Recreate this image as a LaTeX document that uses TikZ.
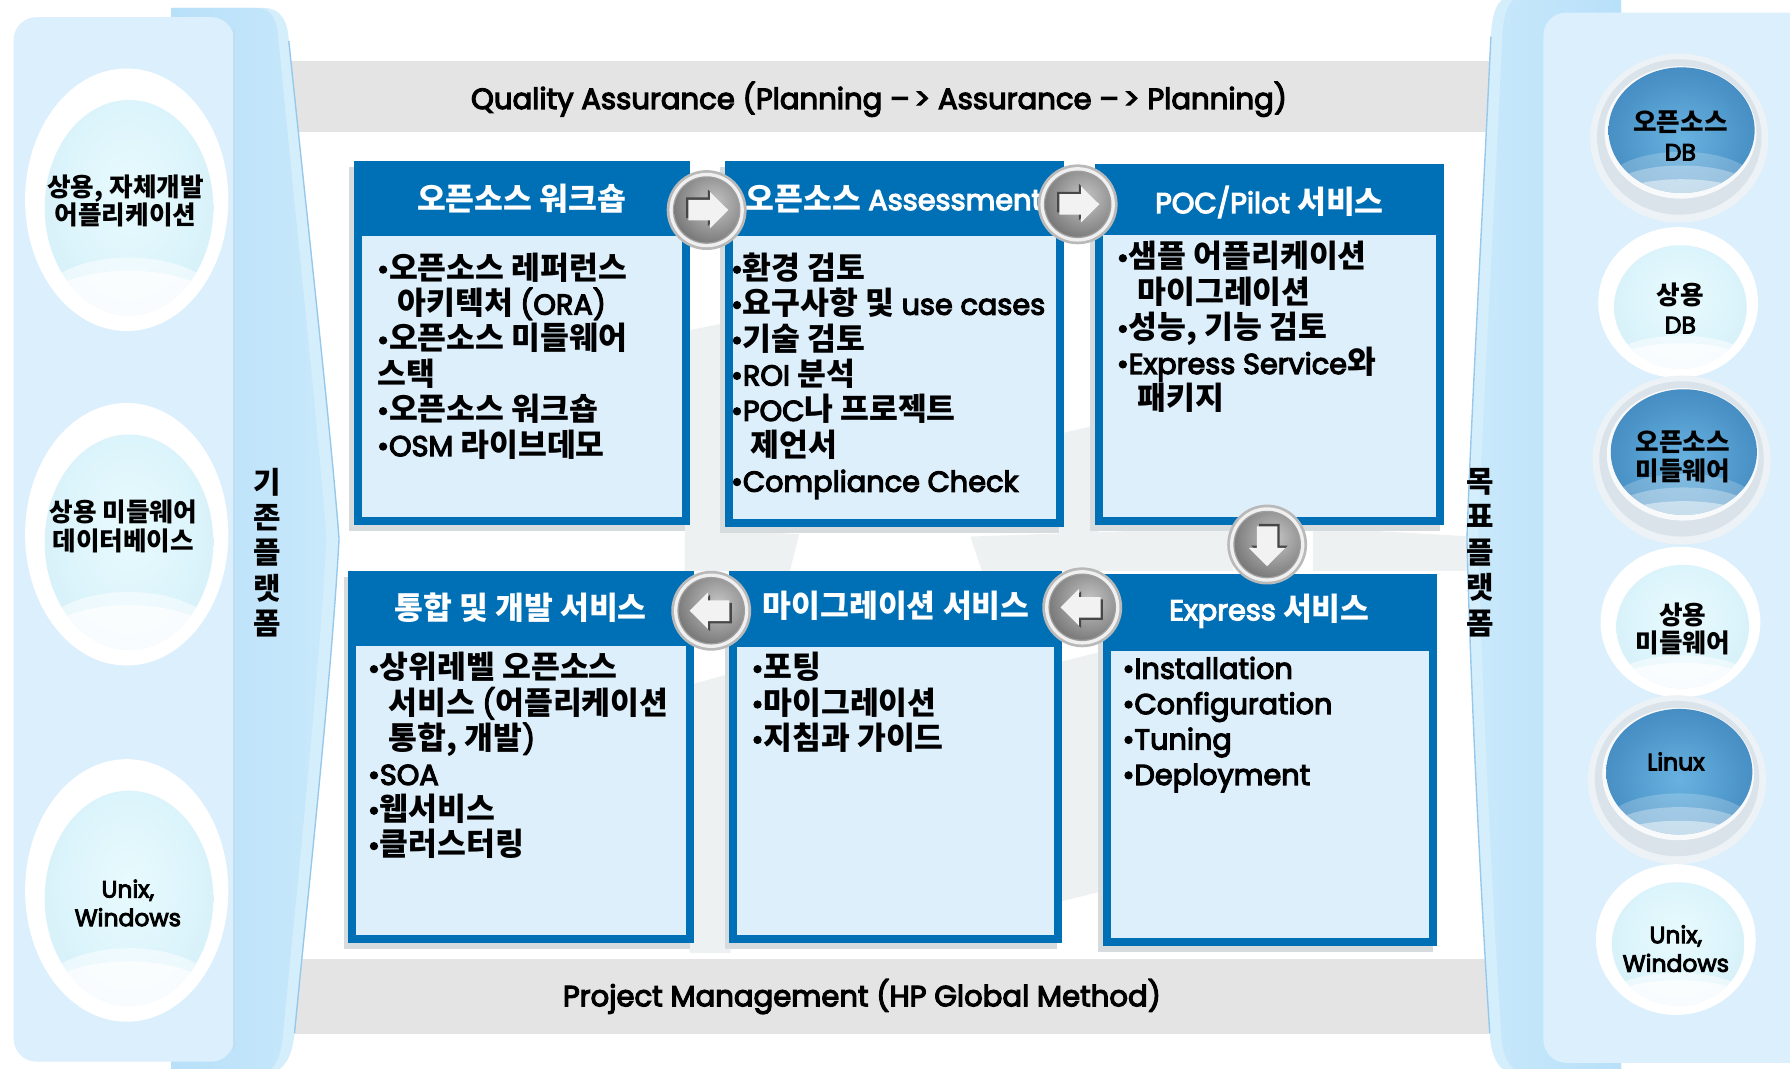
\documentclass[tikz,border=0pt]{standalone}
\usepackage{fontspec}
\setmainfont{Noto Sans CJK KR}[Scale=1.09]
\newfontfamily\lf{Poppins}[FakeBold=4]
\definecolor{bblue}{RGB}{0,112,182}
\definecolor{bbody}{RGB}{222,239,252}
\definecolor{panelc}{RGB}{219,239,252}
\definecolor{tabc}{RGB}{184,224,249}
\definecolor{tabl}{RGB}{212,238,252}
\definecolor{tabedge}{RGB}{150,200,235}
\definecolor{bandc}{RGB}{228,228,228}
\definecolor{shadowc}{RGB}{214,219,222}
\definecolor{wmc}{RGB}{238,241,242}
\definecolor{glow}{RGB}{232,251,254}
\definecolor{glowedge}{RGB}{200,232,246}
\definecolor{blueA}{RGB}{104,178,224}
\definecolor{blueB}{RGB}{38,108,168}
\definecolor{ringc}{RGB}{218,227,233}
\definecolor{halo}{RGB}{236,242,246}
\newcommand\LT[1]{{\lf\mdseries #1}}
\newcommand\bu{{\lf\mdseries •}}
\tikzset{
  boxtitle/.style={text=white, inner sep=0pt, font=\fontsize{12.6}{15}\selectfont\bfseries},
  boxbody/.style={anchor=north west, align=left, inner sep=0pt,
    font=\fontsize{12.6}{15.5}\selectfont\bfseries, execute at begin node={\rule{0pt}{11pt}}},
  circtext/.style={align=center, inner sep=0pt, font=\fontsize{10.3}{12.5}\selectfont\bfseries},
  vtext/.style={align=center, inner sep=0pt, font=\fontsize{12}{15.5}\selectfont\bfseries},
  bandtext/.style={inner sep=0pt, font=\lf\fontsize{12.75}{15}\selectfont},
  btnnode/.style={circle, inner sep=0pt, minimum size=35pt},
}
% box: x1,y1,x2,y2,bodytop
\newcommand\obox[5]{%
  \fill[shadowc] (#1-4,#2+5) rectangle (#3-4,#4+5);
  \fill[bblue] (#1,#2) rectangle (#3,#4);
  \fill[bbody] (#1+7,#5) rectangle (#3-7,#4-7);
}
% white sphere: cx, cy, rx, ry
\newcommand\wcirc[4]{%
  \fill[white] (#1,#2) ellipse [x radius=#3, y radius=#4];
  \begin{scope}
    \clip (#1+2,#2+0.06*#4) ellipse [x radius=0.83*#3, y radius=0.82*#4];
    \shade[inner color=glow, outer color=glowedge] (#1+2,#2-0.05*#4) ellipse [x radius=1.7*#3, y radius=1.8*#4];
    \fill[white, opacity=0.5] (#1+2,#2+0.80*#4) ellipse [x radius=0.9*#3, y radius=0.36*#4];
    \fill[white, opacity=0.7] (#1+2,#2+0.84*#4) ellipse [x radius=0.9*#3, y radius=0.3*#4];
  \end{scope}
}
% blue sphere: cx, cy
\newcommand\bcirc[2]{%
  \fill[halo] (#1,#2) ellipse [x radius=78, y radius=74];
  \fill[ringc] (#1,#2-1) ellipse [x radius=72, y radius=68];
  \fill[white!80!ringc] (#1+1,#2-5) ellipse [x radius=66.5, y radius=58];
  \begin{scope}
    \clip (#1+2,#2-7) ellipse [x radius=64, y radius=55];
    \shade[inner color=blueA, outer color=blueB] (#1+2,#2) ellipse [x radius=130, y radius=118];
    \fill[white, opacity=0.2] (#1+2,#2+38) ellipse [x radius=64, y radius=26];
    \fill[white, opacity=0.3] (#1+2,#2+45) ellipse [x radius=62, y radius=21];
    \fill[white, opacity=0.45] (#1+2,#2+52) ellipse [x radius=58, y radius=16];
  \end{scope}
}
% arrow button: name, cx, cy, rotation
\newcommand\btn[4]{%
  \node[btnnode, fill=gray!55] (#1) at (#2,#3) {};
  \fill[white!88!gray] (#1.center) circle (16.3pt);
  \fill[gray!75] (#1.center) circle (14.8pt);
  \begin{scope}
    \clip (#1.center) circle (14.2pt);
    \shade[inner color=gray!45, outer color=black!72] ([shift={(6,-6)}]#1.center) circle (30pt);
  \end{scope}
  \begin{scope}[shift={(#2,#3)}, rotate=#4]
    \fill[black!72] (-18,-11) -- (1,-11) -- (1,-18) -- (17,-2) -- (1,14) -- (1,7) -- (-18,7) -- cycle;
    \fill[white!90!gray] (-16,-9) -- (3,-9) -- (3,-16) -- (19,0) -- (3,16) -- (3,9) -- (-16,9) -- cycle;
  \end{scope}
}
\begin{document}
\begin{tikzpicture}[x=0.5pt, y=-0.5pt]
\useasboundingbox (0,0) rectangle (1568,936);
\fill[white] (0,0) rectangle (1568,936);

% grey bands
\fill[bandc] (240,53) rectangle (1320,116);
\fill[bandc] (240,840) rectangle (1320,906);

% faint watermark
\fill[wmc] (600,290) -- (640,282) -- (640,500) -- (600,500) -- cycle;
\fill[wmc] (928,380) -- (962,372) -- (962,500) -- (928,500) -- cycle;
\fill[wmc] (600,462) -- (700,468) -- (692,500) -- (600,500) -- cycle;
\fill[wmc] (850,470) -- (1080,462) -- (1080,500) -- (860,500) -- cycle;
\fill[wmc] (1150,462) -- (1290,470) -- (1290,500) -- (1150,500) -- cycle;
\fill[wmc] (604,600) -- (640,590) -- (640,835) -- (604,835) -- cycle;
\fill[wmc] (928,580) -- (968,570) -- (968,780) -- (928,790) -- cycle;

% left tab
\fill[tabl] (150,7) -- (231,7) .. controls (246,7) and (252,18) .. (253,36)
  .. controls (270,200) and (290,380) .. (297,472)
  .. controls (290,600) and (268,800) .. (258,905)
  .. controls (256,925) and (250,936) .. (238,940) -- (150,940) -- cycle;
\shade[left color=tabc, right color=tabl!60!tabc] (150,7) -- (226,7) .. controls (238,7) and (243,18) .. (244,36)
  .. controls (260,200) and (279,380) .. (286,472)
  .. controls (279,600) and (258,800) .. (248,905)
  .. controls (246,925) and (242,936) .. (232,940) -- (150,940) -- cycle;
\draw[tabedge, line width=0.6pt] (253,36)
  .. controls (270,200) and (290,380) .. (297,472)
  .. controls (290,600) and (268,800) .. (258,905);

% right tab
\fill[tabl] (1420,-2) -- (1322,-2) .. controls (1312,-2) and (1307,10) .. (1306,32)
  .. controls (1298,200) and (1288,380) .. (1285,472)
  .. controls (1288,600) and (1298,800) .. (1305,905)
  .. controls (1306,925) and (1312,936) .. (1322,940) -- (1420,940) -- cycle;
\shade[left color=tabl!60!tabc, right color=tabc] (1420,-2) -- (1332,-2) .. controls (1322,-2) and (1317,10) .. (1316,32)
  .. controls (1308,200) and (1298,380) .. (1295,472)
  .. controls (1298,600) and (1308,800) .. (1315,905)
  .. controls (1316,925) and (1322,936) .. (1332,940) -- (1420,940) -- cycle;
\draw[tabedge, line width=0.6pt] (1306,32)
  .. controls (1298,200) and (1288,380) .. (1285,472)
  .. controls (1288,600) and (1298,800) .. (1305,905);

% panels
\fill[panelc, rounded corners=10pt] (12,15) rectangle (205,930);
\draw[tabedge!60, line width=0.5pt] (205,25) -- (205,920);
\fill[panelc, rounded corners=10pt] (1352,11) rectangle (1600,931);

% left spheres
\wcirc{111}{175}{89}{115}
\wcirc{111}{468}{89}{115}
\wcirc{111}{780}{89}{115}
\node[circtext] (l1) at (110,176) {상용, 자체개발\\어플리케이션};
\node[circtext] (l2) at (108,461) {상용 미들웨어\\데이터베이스};
\node[circtext] (l3) at (112,791) {\LT{Unix,}\\\LT{Windows}};

% right spheres
\bcirc{1471}{121}
\wcirc{1470}{265}{70}{66}
\bcirc{1473}{403}
\wcirc{1472}{545}{70}{66}
\bcirc{1469}{683}
\wcirc{1468}{823}{70}{66}
\node[circtext] (r1) at (1472,119) {오픈소스\\\LT{DB}};
\node[circtext] (r2) at (1472,270) {상용\\\LT{DB}};
\node[circtext] (r3) at (1474,400) {오픈소스\\미들웨어};
\node[circtext] (r4) at (1474,551) {상용\\미들웨어};
\node[circtext] (r5) at (1468,667) {\LT{Linux}};
\node[circtext] (r6) at (1468,831) {\LT{Unix,}\\\LT{Windows}};

% vertical labels
\node[vtext] (vl) at (234,484) {기\\존\\플\\랫\\폼};
\node[vtext] (vr) at (1297,484) {목\\표\\플\\랫\\폼};

% band texts
\node[bandtext] (qa) at (770,87) {Quality Assurance (Planning –\,> Assurance –\,> Planning)};
\node[bandtext] (pm) at (755,873) {Project Management (HP Global Method)};

% boxes
\obox{310}{141}{604}{460}{207}
\obox{635}{141}{932}{462}{207}
\obox{959}{144}{1265}{460}{206}
\obox{305}{500}{608}{826}{566}
\obox{639}{500}{930}{826}{567}
\obox{966}{503}{1259}{829}{570}

\node[boxtitle] (t1) at (457,174) {오픈소스 워크숍};
\node[boxtitle] (t2) at (783,174) {오픈소스 \LT{Assessment}};
\node[boxtitle] (t3) at (1112,177) {\LT{POC/Pilot} 서비스};
\node[boxtitle] (t4) at (456,532) {통합 및 개발 서비스};
\node[boxtitle] (t5) at (785,531) {마이그레이션 서비스};
\node[boxtitle] (t6) at (1112,535) {\LT{Express} 서비스};

\node[boxbody] (c1) at (330,221) {\bu 오픈소스 레퍼런스\\\hspace*{9pt}아키텍처 \LT{(ORA)}\\\bu 오픈소스 미들웨어\\스택\\\bu 오픈소스 워크숍\\\bu \LT{OSM} 라이브데모};
\node[boxbody] (c2) at (640,221) {\bu 환경 검토\\\bu 요구사항 및 \LT{use cases}\\\bu 기술 검토\\\bu \LT{ROI} 분석\\\bu \LT{POC}나 프로젝트\\\hspace*{8.5pt}제언서\\\bu \LT{Compliance Check}};
\node[boxbody] (c3) at (978,211) {\bu 샘플 어플리케이션\\\hspace*{9pt}마이그레이션\\\bu 성능, 기능 검토\\\bu \LT{Express Service}와\\\hspace*{9pt}패키지};
\node[boxbody] (c4) at (322,571) {\bu 상위레벨 오픈소스\\\hspace*{9pt}서비스 \LT{(}어플리케이션\\\hspace*{9pt}통합, 개발\LT{)}\\\bu \LT{SOA}\\\bu 웹서비스\\\bu 클러스터링};
\node[boxbody] (c5) at (658,571) {\bu 포팅\\\bu 마이그레이션\\\bu 지침과 가이드};
\node[boxbody] (c6) at (983,575) {\bu \LT{Installation}\\\bu \LT{Configuration}\\\bu \LT{Tuning}\\\bu \LT{Deployment}};

% arrow buttons
\btn{a1}{619}{184}{0}
\btn{a2}{944}{179}{0}
\btn{a3}{1110}{477}{-90}
\btn{a4}{948}{532}{180}
\btn{a5}{623}{535}{180}
\end{tikzpicture}
\end{document}
